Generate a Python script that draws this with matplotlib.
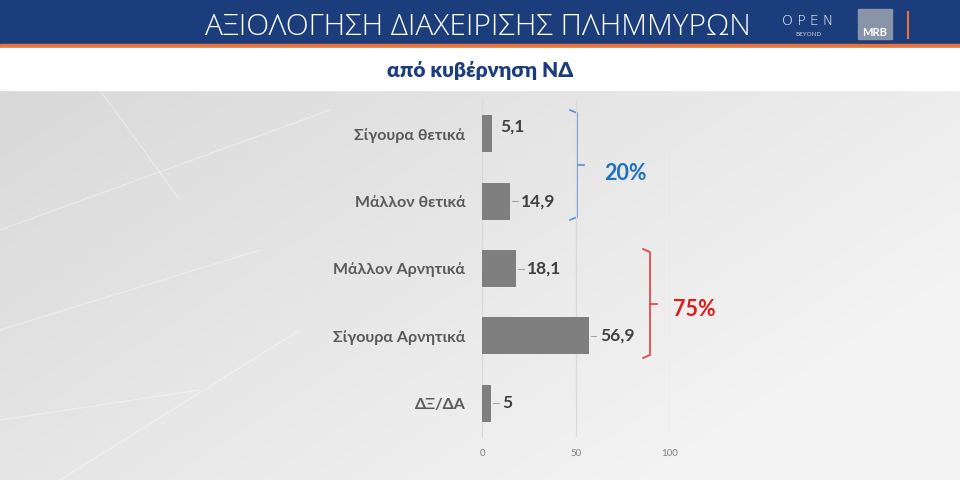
import matplotlib
matplotlib.use("Agg")
import matplotlib.pyplot as plt
import numpy as np
from matplotlib.patches import Rectangle

plt.rcParams['font.family'] = ['Lato', 'DejaVu Sans']

title = "ΑΞΙΟΛΟΓΗΣΗ ΔΙΑΧΕΙΡΙΣΗΣ ΠΛΗΜΜΥΡΩΝ"
subtitle = "από κυβέρνηση ΝΔ"
categories = ["Σίγουρα θετικά", "Μάλλον θετικά", "Μάλλον Αρνητικά", "Σίγουρα Αρνητικά", "ΔΞ/ΔΑ"]
values = [5.1, 14.9, 18.1, 56.9, 5.0]
value_labels = ["5,1", "14,9", "18,1", "56,9", "5"]
xticks = [0, 50, 100]
group_labels = ["20%", "75%"]

W, H = 960, 480
fig = plt.figure(figsize=(9.6, 4.8), dpi=100)

# background
bg = fig.add_axes([0, 0, 1, 1])
bg.set_xlim(0, W); bg.set_ylim(H, 0); bg.axis('off')
yy, xx = np.mgrid[0:390, 0:960]
grad = 0.85 + 0.08 * (xx / 960) + 0.05 * (yy / 390)
grad = np.clip(grad, 0, 0.96)
bg.imshow(np.dstack([grad, grad, grad]), extent=[0, W, 480, 90], aspect='auto', zorder=0)
# faint diagonal streaks
for x0, y0, x1, y1 in [(0, 230, 330, 110), (0, 330, 260, 250), (60, 480, 300, 330), (100, 90, 180, 200), (0, 420, 200, 390)]:
    bg.plot([x0, x1], [y0, y1], color='white', lw=1.0, alpha=0.35, zorder=1)
# header
bg.add_patch(Rectangle((0, 0), W, 44, color='#1c3d7c', zorder=2))
bg.add_patch(Rectangle((0, 44), W, 4, color='#e8733a', zorder=2))
bg.add_patch(Rectangle((0, 48), W, 42, color='white', zorder=2))
bg.text(478, 27, title, color='white', fontsize=21.5, ha='center', va='center',
        family=['Open Sans', 'DejaVu Sans'], fontweight='light', zorder=3)
bg.text(480, 71, subtitle, color='#1c3d7c', fontsize=15, ha='center', va='center',
        fontweight='heavy', zorder=3)
bg.text(808, 21, "O P E N", color='white', fontsize=10, ha='center', va='center', zorder=3,
        family=['DejaVu Sans'], fontweight='light')
bg.text(808, 35, "BEYOND", color='#c8d0e0', fontsize=4.5, ha='center', va='center', zorder=3)
bg.add_patch(Rectangle((858, 9), 34, 14, color='#8a94a8', zorder=3))
bg.add_patch(Rectangle((858, 24), 34, 15, color='#8a94a8', zorder=3))
bg.text(875, 32, "MRB", color='white', fontsize=8, ha='center', va='center', fontweight='bold', zorder=4)
bg.plot([908, 908], [12, 38], color='#e8733a', lw=1.5, zorder=3)

# chart
ax = fig.add_axes([482 / W, 1 - 437 / H, (670 - 482) / W, (437 - 100) / H])
ax.patch.set_alpha(0)
y = np.arange(len(categories))
ax.barh(y, values, height=0.55, color='#7f7f7f', zorder=3)
ax.set_ylim(len(categories) - 0.5, -0.5)
ax.set_xlim(0, 100)
ax.set_xticks(xticks)
ax.set_xticklabels([str(t) for t in xticks], fontsize=7, color='#7f7f7f')
ax.tick_params(axis='x', length=0, pad=9)
ax.tick_params(axis='y', length=0, pad=12)
ax.set_yticks(y)
ax.set_yticklabels(categories, fontsize=11.5, color='#595959', fontweight='bold')
for s in ['top', 'right', 'bottom']:
    ax.spines[s].set_visible(False)
ax.spines['left'].set_color('#d9d9d9')
ax.grid(axis='x', color='#d9d9d9', lw=0.9, zorder=0)
ax.set_axisbelow(True)

for i, (v, lab) in enumerate(zip(values, value_labels)):
    if i == 0:
        ax.annotate(lab, (v, i), xytext=(6, 5), textcoords='offset points', fontsize=12.5,
                    color='#404040', fontweight='bold', va='center', ha='left')
    else:
        ax.annotate(lab, (v, i), xytext=(8, 0), textcoords='offset points', fontsize=12.5,
                    color='#404040', fontweight='bold', va='center', ha='left')
        ax.plot([v + 1.0, v + 4.0], [i, i], color='#a6a6a6', lw=0.8, zorder=4)

# brackets
def bracket(x, y0, y1, color):
    ym = (y0 + y1) / 2
    bg.plot([x - 7, x, x, x - 7], [y0, y0 + 3, y1 - 3, y1], color=color, lw=1.2, zorder=5)
    bg.plot([x, x + 7], [ym, ym], color=color, lw=1.2, zorder=5)

bracket(577, 110, 220, '#5b8fd0')
bracket(650, 249, 358, '#e0403a')
bg.text(604, 173, group_labels[0], color='#1f6fbf', fontsize=15.5, fontweight='bold', ha='left', va='center', zorder=5)
bg.text(673, 310, group_labels[1], color='#e01b1b', fontsize=15.5, fontweight='bold', ha='left', va='center', zorder=5)

fig.savefig("out.png", dpi=100)
